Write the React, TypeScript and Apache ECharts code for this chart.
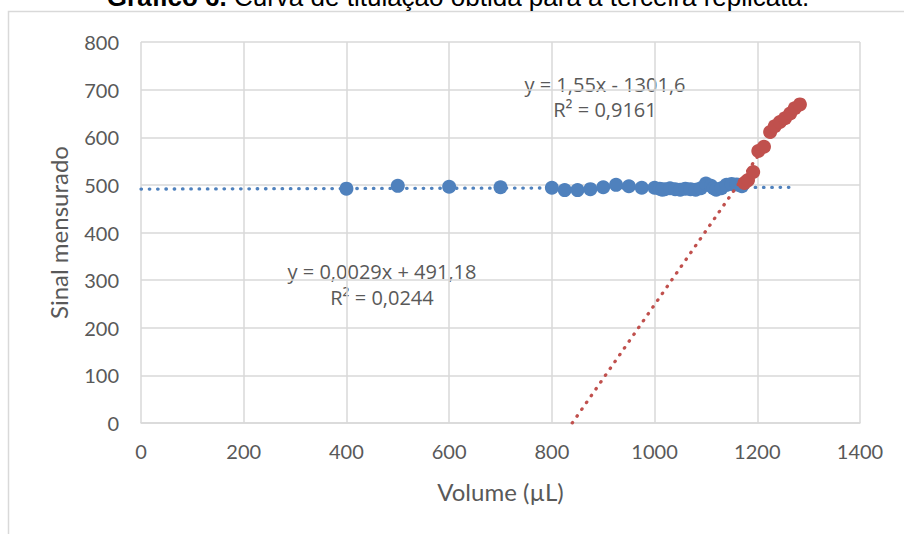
import React, { useEffect, useRef } from "react";
import * as echarts from "echarts";

const titleBold = "Gráfico 6.";
const titleRest = " Curva de titulação obtida para a terceira replicata.";
const xAxisName = "Volume (µL)";
const yAxisName = "Sinal mensurado";

const xTicks = [0, 200, 400, 600, 800, 1000, 1200, 1400];
const yTicks = [0, 100, 200, 300, 400, 500, 600, 700, 800];

const blueX = [400, 500, 600, 700, 800, 825, 850, 875, 900, 925, 950, 975, 1000, 1010, 1015, 1020, 1030, 1040, 1050, 1060, 1070, 1080, 1090, 1100, 1110, 1115, 1120, 1130, 1140, 1150, 1160, 1170];
const blueY = [492, 498, 496, 495, 494, 489, 489, 491, 495, 500, 497, 494, 494, 492, 490, 491, 493, 491, 490, 492, 491, 490, 493, 503, 498, 493, 490, 493, 500, 502, 501, 497];

const redX = [1175, 1182, 1192, 1202, 1213, 1225, 1234, 1244, 1254, 1264, 1273, 1283];
const redY = [504, 510, 527, 571, 580, 611, 623, 632, 640, 650, 661, 669];

// Trendline coefficients (slope, intercept) and x ranges as shown in the chart
const blueTrend = { slope: 0.0029, intercept: 491.18, xStart: 0, xEnd: 1275 };
const redTrend = { slope: 1.55, intercept: -1301.6, xEnd: 1268 };

const blueEq = ["y = 0,0029x + 491,18", "R² = 0,0244"];
const redEq = ["y = 1,55x - 1301,6", "R² = 0,9161"];

const BLUE = "#4f81bd";
const RED = "#c0504d";
const TXT = "#595959";
const GRID = "#d9d9d9";
const FONT = "Lato, 'Open Sans', sans-serif";
const EQFONT = "'Open Sans', Lato, sans-serif";

export default function App() {
  const ref = useRef<HTMLDivElement>(null);
  useEffect(() => {
    if (!ref.current) return;
    const chart = echarts.init(ref.current, null, { renderer: "svg" });
    const blueData = blueX.map((x, i) => [x, blueY[i]]);
    const redData = redX.map((x, i) => [x, redY[i]]);
    const blueLine = [blueTrend.xStart, blueTrend.xEnd].map((x) => [x, blueTrend.slope * x + blueTrend.intercept]);
    const redStart = -redTrend.intercept / redTrend.slope;
    const redLine = [redStart, redTrend.xEnd].map((x) => [x, redTrend.slope * x + redTrend.intercept]);
    const dotted = (color: string) => ({ color, width: 3.3, type: [0.5, 7.8], cap: "round" as const });

    chart.setOption({
      animation: false,
      textStyle: { fontFamily: FONT },
      grid: { left: 141, right: 44, top: 42, bottom: 111, containLabel: false },
      xAxis: {
        type: "value",
        min: xTicks[0],
        max: xTicks[xTicks.length - 1],
        interval: 200,
        name: xAxisName,
        nameLocation: "middle",
        nameGap: 56,
        nameTextStyle: { color: TXT, fontSize: 24, fontFamily: FONT },
        axisLine: { show: true, lineStyle: { color: GRID, width: 1.5 } },
        axisTick: { show: false },
        axisLabel: { color: TXT, fontSize: 20, margin: 18, fontFamily: FONT, formatter: (v: number) => String(v) },
        splitLine: { show: true, lineStyle: { color: GRID, width: 1.5 } },
      },
      yAxis: {
        type: "value",
        min: yTicks[0],
        max: yTicks[yTicks.length - 1],
        interval: 100,
        name: yAxisName,
        nameLocation: "middle",
        nameGap: 71,
        nameTextStyle: { color: TXT, fontSize: 24, fontFamily: FONT },
        axisLine: { show: false },
        axisTick: { show: false },
        axisLabel: { color: TXT, fontSize: 20, margin: 22, fontFamily: FONT, formatter: (v: number) => String(v) },
        splitLine: { show: true, lineStyle: { color: GRID, width: 1.5 } },
      },
      series: [
        { type: "line", data: blueLine, symbol: "none", lineStyle: dotted(BLUE), z: 2, silent: true },
        { type: "scatter", data: blueData, symbolSize: 14, itemStyle: { color: BLUE, opacity: 1 }, z: 3 },
        { type: "line", data: redLine, symbol: "none", lineStyle: dotted(RED), z: 4, silent: true },
        { type: "scatter", data: redData, symbolSize: 14, itemStyle: { color: RED, opacity: 1 }, z: 5 },
      ],
      graphic: [
        {
          type: "rect",
          shape: { x: 8.5, y: 11.5, width: 1200, height: 1200 },
          style: { fill: "none", stroke: GRID, lineWidth: 1.5 },
          z: -10,
        },
        {
          type: "text",
          x: 458,
          y: -3,
          style: {
            text: "{b|" + titleBold + "}" + titleRest,
            font: "26px 'Liberation Sans', Arial, sans-serif",
            fill: "#000",
            align: "center",
            verticalAlign: "middle",
            rich: { b: { fontWeight: "bold", fontSize: 26, fontFamily: "'Liberation Sans', Arial, sans-serif" } },
          },
        },
        {
          type: "text", x: 605, y: 84,
          style: { text: redEq[0], font: "20px " + EQFONT, fill: TXT, align: "center", verticalAlign: "middle" },
        },
        {
          type: "text", x: 605, y: 109,
          style: { text: redEq[1], font: "20px " + EQFONT, fill: TXT, align: "center", verticalAlign: "middle" },
        },
        {
          type: "text", x: 382, y: 271,
          style: { text: blueEq[0], font: "20px " + EQFONT, fill: TXT, align: "center", verticalAlign: "middle" },
        },
        {
          type: "text", x: 382, y: 297,
          style: { text: blueEq[1], font: "20px " + EQFONT, fill: TXT, align: "center", verticalAlign: "middle" },
        },
      ],
    });
    return () => chart.dispose();
  }, []);
  return <div ref={ref} style={{ position: "absolute", left: 0, top: 0, width: 904, height: 534 }} />;
}
